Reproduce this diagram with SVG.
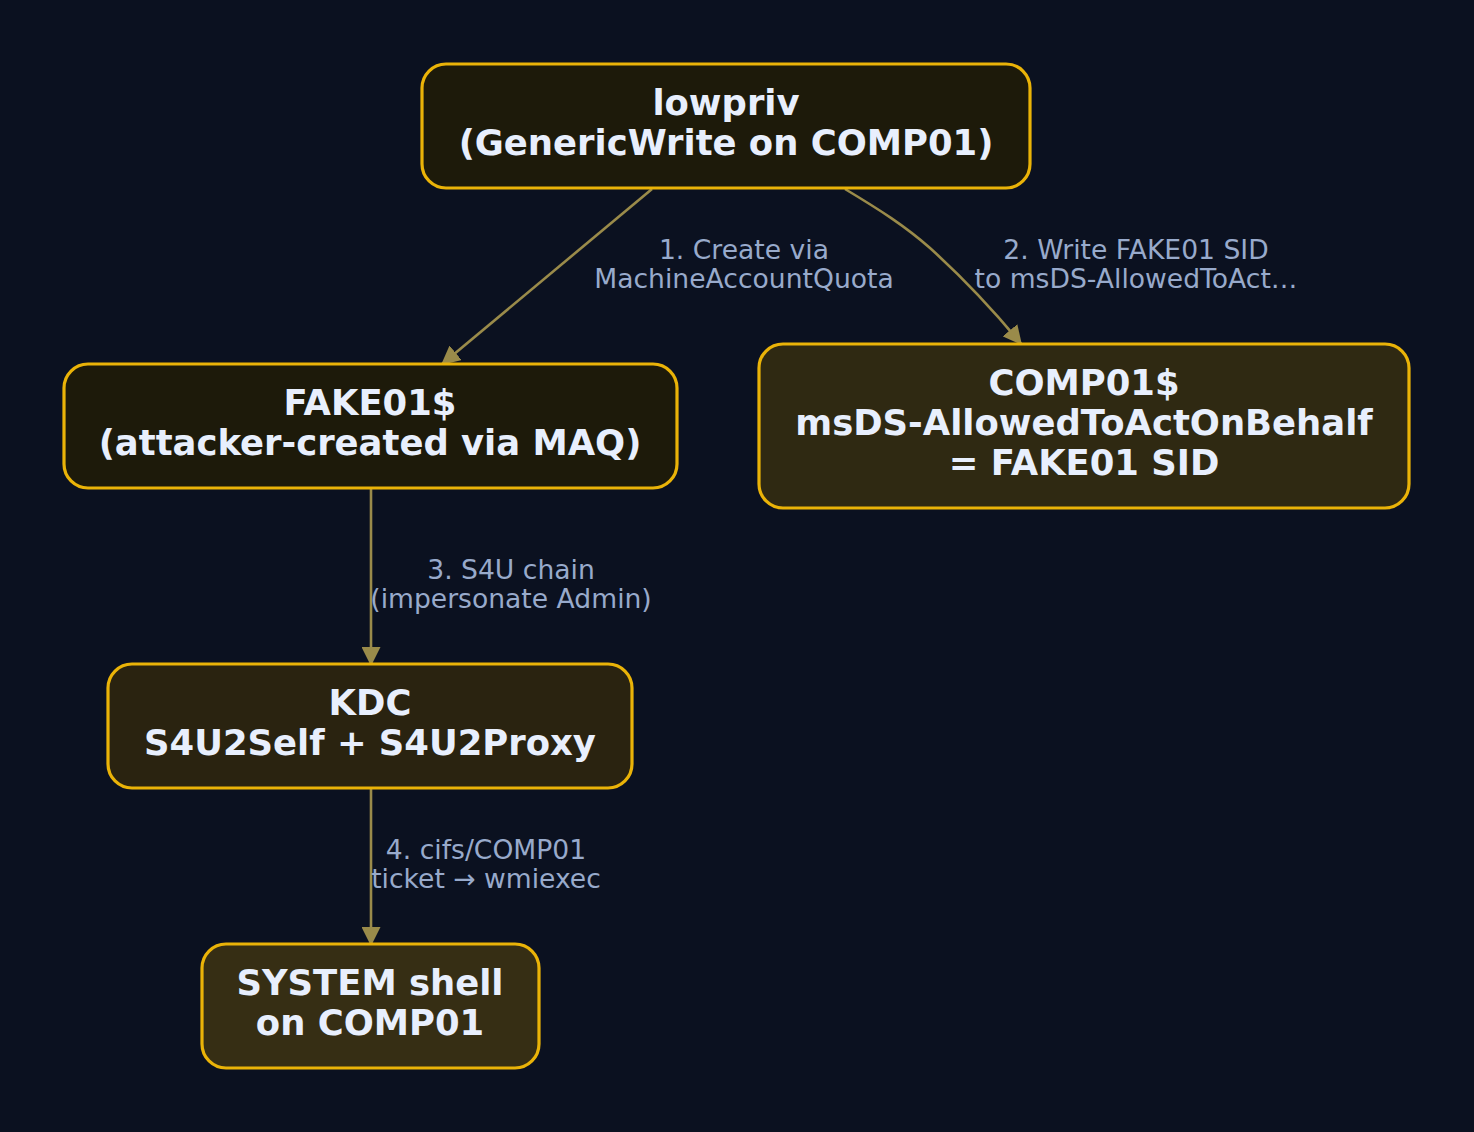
<svg xmlns="http://www.w3.org/2000/svg" width="1474" height="1132" viewBox="0 0 1474 1132">
<defs>
<marker id="ah" viewBox="0 0 10 10" refX="10" refY="5" markerWidth="19" markerHeight="19" markerUnits="userSpaceOnUse" orient="auto">
<path d="M0,0 L10,5 L0,10 Z" fill="#9a8b4a"/>
</marker>
<style>
.node rect{stroke:#eab308;stroke-width:3.2}
.nt{font-family:"DejaVu Sans",sans-serif;font-weight:bold;font-size:35.4px;fill:#e8effd;text-anchor:middle}
.edge path{fill:none;stroke:#9a8b4a;stroke-width:2.6;marker-end:url(#ah)}
.el{font-family:"DejaVu Sans",sans-serif;font-size:26.6px;fill:#98aacb;text-anchor:middle}
</style>
</defs>
<rect width="1474" height="1132" fill="#0b1120"/>
<g id="connectors" class="edge">
<path d="M652,189 L441,365"/>
<path d="M845,189 C880,210 905,226 930,248 C962,277 995,312 1022,345"/>
<path d="M371,489 L371,666"/>
<path d="M371,789 L371,946"/>
<text class="el" x="744" y="259">1. Create via</text>
<text class="el" x="744" y="288">MachineAccountQuota</text>
<text class="el" x="1136" y="259">2. Write FAKE01 SID</text>
<text class="el" x="1136" y="288">to msDS-AllowedToAct…</text>
<text class="el" x="511" y="579">3. S4U chain</text>
<text class="el" x="511" y="608">(impersonate Admin)</text>
<text class="el" x="486" y="859">4. cifs/COMP01</text>
<text class="el" x="486" y="888">ticket → wmiexec</text>
</g>
<g id="lowpriv" class="node">
<rect x="422" y="64" width="608" height="124" rx="24" fill="#1d1a0a"/>
<text class="nt" x="726" y="115">lowpriv</text>
<text class="nt" x="726" y="155">(GenericWrite on COMP01)</text>
</g>
<g id="fake01" class="node">
<rect x="64" y="364" width="613" height="124" rx="24" fill="#1d1a0a"/>
<text class="nt" x="370" y="415">FAKE01$</text>
<text class="nt" x="370" y="455">(attacker-created via MAQ)</text>
</g>
<g id="comp01" class="node">
<rect x="759" y="344" width="650" height="164" rx="24" fill="#2f2912"/>
<text class="nt" x="1084" y="395">COMP01$</text>
<text class="nt" x="1084" y="435">msDS-AllowedToActOnBehalf</text>
<text class="nt" x="1084" y="475">= FAKE01 SID</text>
</g>
<g id="kdc" class="node">
<rect x="108" y="664" width="524" height="124" rx="24" fill="#2a2310"/>
<text class="nt" x="370" y="715">KDC</text>
<text class="nt" x="370" y="755">S4U2Self + S4U2Proxy</text>
</g>
<g id="system" class="node">
<rect x="202" y="944" width="337" height="124" rx="24" fill="#362e14"/>
<text class="nt" x="370" y="995">SYSTEM shell</text>
<text class="nt" x="370" y="1035">on COMP01</text>
</g>
</svg>
